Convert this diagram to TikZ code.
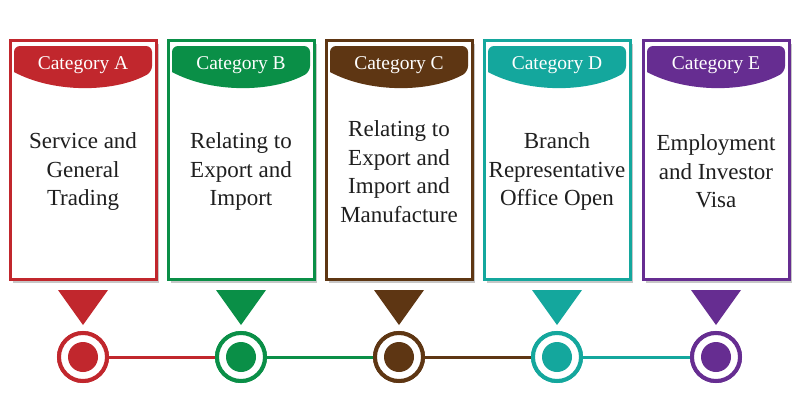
\documentclass[tikz,border=0pt]{standalone}
\usepackage{fontspec}
\setmainfont{Liberation Serif}
\usetikzlibrary{shadows}
\definecolor{cA}{HTML}{C1272D}
\definecolor{cB}{HTML}{0A8F47}
\definecolor{cC}{HTML}{5E3613}
\definecolor{cD}{HTML}{14A79D}
\definecolor{cE}{HTML}{662D91}
\tikzset{
  catbox/.style={draw=#1, line width=3pt, fill=white, minimum width=146pt, minimum height=239pt, inner sep=0pt,
    drop shadow={shadow xshift=2.5pt, shadow yshift=-3pt, opacity=0.22, fill=black}},
  tabtext/.style={text=white, font=\fontsize{19.5}{22}\selectfont},
  bodytext/.style={align=center, font=\fontsize{23}{28.5}\selectfont, text=black!88},
  ring/.style={circle, draw=#1, line width=4pt, fill=white, minimum size=48pt, inner sep=0pt},
  dot/.style={circle, fill=#1, minimum size=30pt, inner sep=0pt},
  link/.style={draw=#1, line width=3pt}
}
\begin{document}
\begin{tikzpicture}[x=1pt,y=-1pt]
\useasboundingbox (0,0) rectangle (800,400);
\fill[white] (0,0) rectangle (800,400);
\foreach \n/\x in {A/83,B/241,C/399,D/557,E/716}{
  \node[ring=c\n] (r\n) at (\x,357) {};
}
\draw[link=cA] (rA) -- (rB);
\draw[link=cB] (rB) -- (rC);
\draw[link=cC] (rC) -- (rD);
\draw[link=cD] (rD) -- (rE);
\foreach \n/\x in {A/83,B/241,C/399,D/557,E/716}{
  \node[ring=c\n] (r\n) at (\x,357) {};
  \node[dot=c\n] (d\n) at (\x,357) {};
  \node[catbox=c\n] (b\n) at (\x,160) {};
  \fill[c\n, rounded corners=6pt] (\x-69,72) -- (\x-69,46) -- (\x+69,46) -- (\x+69,72) [sharp corners] .. controls (\x+30,93) and (\x-30,93) .. cycle;
  \node[tabtext] (t\n) at (\x,65) {Category \n};
  \fill[c\n] (\x-25,290) -- (\x+25,290) -- (\x,325) -- cycle;
}
\node[bodytext] (xA) at (83,171.5) {Service and\\General\\Trading};
\node[bodytext] (xB) at (241,171.5) {Relating to\\Export and\\Import};
\node[bodytext] (xC) at (399,171.5) {Relating to\\Export and\\Import and\\Manufacture};
\node[bodytext] (xD) at (557,171.5) {Branch\\Representative\\Office Open};
\node[bodytext] (xE) at (716,171.5) {Employment\\and Investor\\Visa};
\end{tikzpicture}
\end{document}
